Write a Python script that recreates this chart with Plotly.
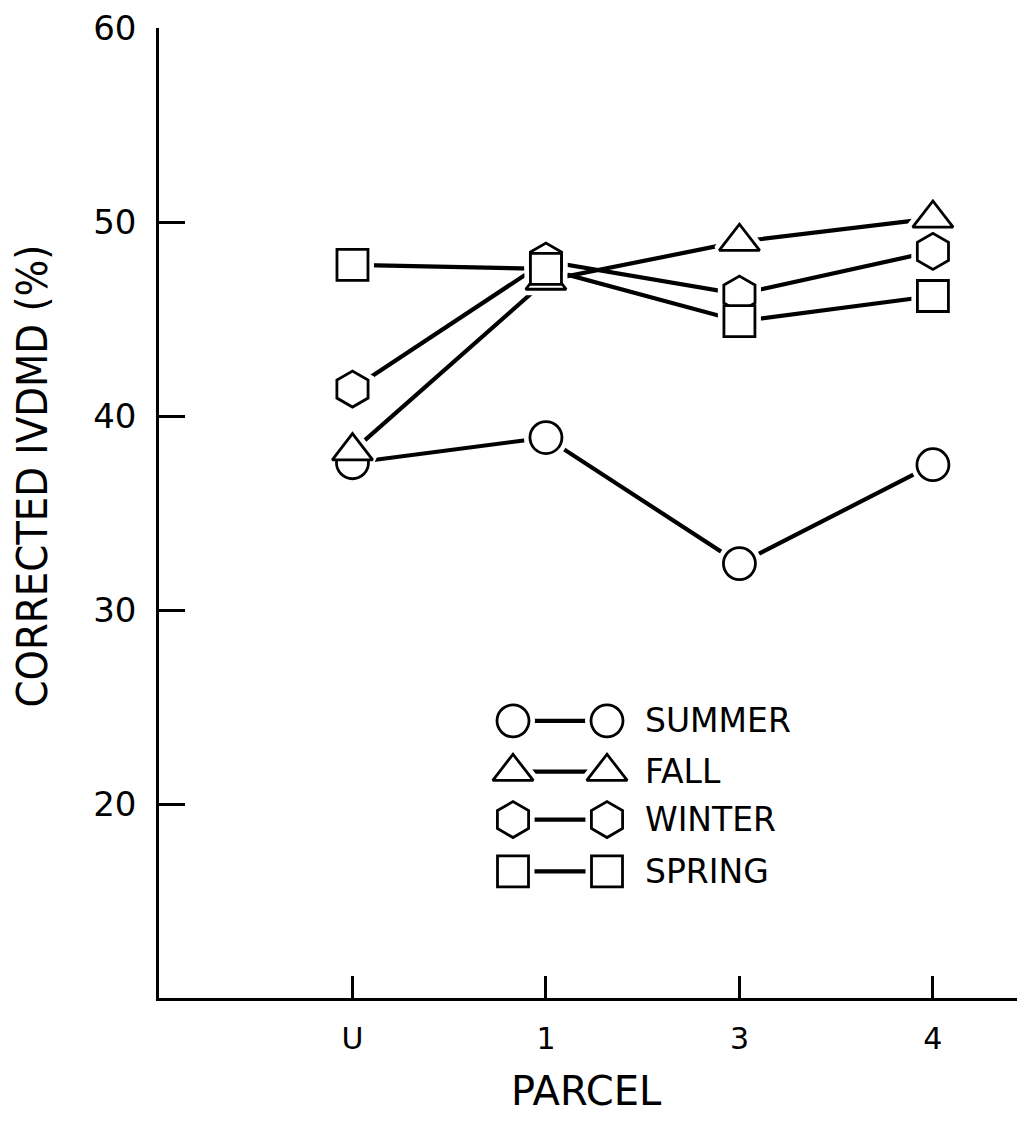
import plotly.graph_objects as go

# ---- data ----
parcels = ["U", "1", "3", "4"]
summer = [37.6, 38.9, 32.4, 37.5]
fall = [38.2, 47.0, 49.0, 50.2]
winter = [41.4, 48.0, 46.3, 48.5]
spring = [47.8, 47.6, 44.9, 46.2]
series_names = ["SUMMER", "FALL", "WINTER", "SPRING"]
y_ticks = [20, 30, 40, 50, 60]

FONT = "DejaVu Sans"
TITLE_FONT = "DejaVu Sans Condensed, DejaVu Sans"
series = [
    (series_names[0], summer, "circle", 32),
    (series_names[1], fall, "triangle-up", 35),
    (series_names[2], winter, "hexagon", 36),
    (series_names[3], spring, "square", 31),
]

fig = go.Figure()

# lines first
for name, vals, sym, sz in series:
    fig.add_trace(go.Scatter(x=parcels, y=vals, mode="lines",
                             line=dict(color="black", width=4.2),
                             showlegend=False, hoverinfo="skip"))
# white halos to create the gap between line and marker
for name, vals, sym, sz in series:
    fig.add_trace(go.Scatter(x=parcels, y=vals, mode="markers",
                             marker=dict(symbol=sym, size=sz, color="white",
                                         line=dict(color="white", width=12)),
                             showlegend=False, hoverinfo="skip"))
# open markers
for name, vals, sym, sz in series:
    fig.add_trace(go.Scatter(x=parcels, y=vals, mode="markers", name=name,
                             marker=dict(symbol=sym, size=sz, color="white",
                                         line=dict(color="black", width=2.8)),
                             showlegend=False))

# ---- hand-drawn style legend on an overlay pixel axis ----
leg_y = [720, 771, 819, 871]
x_left, x_right, x_text = 513, 607, 643
for (name, vals, sym, sz), ly in zip(series, leg_y):
    fig.add_trace(go.Scatter(x=[x_left, x_right], y=[ly, ly], mode="lines",
                             line=dict(color="black", width=4.2),
                             xaxis="x2", yaxis="y2", showlegend=False, hoverinfo="skip"))
for (name, vals, sym, sz), ly in zip(series, leg_y):
    fig.add_trace(go.Scatter(x=[x_left, x_right], y=[ly, ly], mode="markers",
                             marker=dict(symbol=sym, size=sz, color="white",
                                         line=dict(color="white", width=12)),
                             xaxis="x2", yaxis="y2", showlegend=False, hoverinfo="skip"))
    fig.add_trace(go.Scatter(x=[x_left, x_right], y=[ly, ly], mode="markers",
                             marker=dict(symbol=sym, size=sz, color="white",
                                         line=dict(color="black", width=2.8)),
                             xaxis="x2", yaxis="y2", showlegend=False, hoverinfo="skip"))
    fig.add_annotation(x=x_text, y=ly, xref="x2", yref="y2", text=name,
                       showarrow=False, xanchor="left", yanchor="middle",
                       font=dict(family=FONT, size=33, color="black"))

# axis titles
fig.add_annotation(x=-0.1467, y=0.5386, xref="paper", yref="paper",
                   text="CORRECTED IVDMD (%)", textangle=-90, showarrow=False,
                   xanchor="center", yanchor="middle",
                   font=dict(family=TITLE_FONT, size=43, color="black"))
fig.add_annotation(x=0.494, y=-0.0956, xref="paper", yref="paper",
                   text="PARCEL", showarrow=False,
                   xanchor="center", yanchor="middle",
                   font=dict(family=FONT, size=40, color="black"))

# the page body has an 8px margin; size the figure so nothing scrolls
fig.update_layout(
    width=1017, height=1108,
    margin=dict(l=151, r=0, t=17, b=118),
    paper_bgcolor="white", plot_bgcolor="white",
    showlegend=False,
    xaxis=dict(type="category", categoryorder="array", categoryarray=parcels,
               range=[-1.0, 3.476], showgrid=False, zeroline=False,
               showline=True, linecolor="black", linewidth=2.5,
               ticks="inside", ticklen=22, tickwidth=2.5, tickcolor="black",
               ticklabelstandoff=12,
               tickfont=dict(family=FONT, size=30, color="black")),
    yaxis=dict(range=[10, 60.02], tickvals=y_ticks, showgrid=False, zeroline=False,
               showline=True, linecolor="black", linewidth=2.5,
               ticks="inside", ticklen=26, tickwidth=2.5, tickcolor="black",
               ticklabelstandoff=13, ticklabeloverflow="allow",
               tickfont=dict(family=FONT, size=34, color="black")),
    xaxis2=dict(overlaying="x", range=[159, 1025], visible=False, fixedrange=True),
    yaxis2=dict(overlaying="y", range=[998, 25], visible=False, fixedrange=True),
)

fig.write_html("out.html")
